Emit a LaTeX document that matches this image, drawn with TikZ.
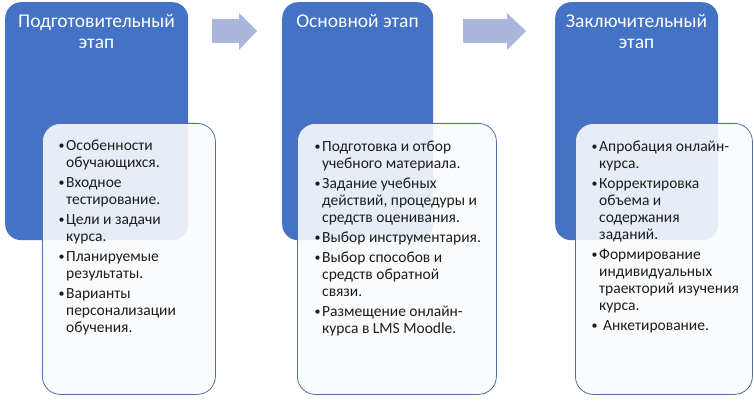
\documentclass[tikz,border=0pt]{standalone}
\usepackage{fontspec}
\setmainfont{Carlito}
\definecolor{accent}{HTML}{4472C4}
\definecolor{arrowc}{HTML}{A9B7DB}
\definecolor{txtc}{HTML}{1C1C1C}
\definecolor{edgec}{HTML}{4F6FAE}
\newcommand\bul{\makebox[8pt][l]{\hspace{0.5pt}\raisebox{0.6pt}{\fontsize{12}{12}\selectfont\textbullet}}}
\newcommand\ind{\hspace*{8pt}}
\begin{document}
\begin{tikzpicture}[x=1pt,y=-1pt,
  stagebox/.style={fill=accent, rounded corners=16pt, anchor=north west, inner sep=0pt, minimum width=#1, minimum height=238pt},
  listbox/.style={draw=edgec, line width=0.8pt, fill=white!97!accent, fill opacity=0.9, rounded corners=18pt, anchor=north west, inner sep=0pt, minimum width=#1, minimum height=271pt},
  head/.style={text=white, font=\fontsize{19.5}{21}\selectfont, align=center, anchor=base, inner sep=0pt},
  listtext/.style={text=txtc, font=\fontsize{15.5}{17}\selectfont, align=left, anchor=base west, inner sep=0pt},
  blockarrow/.style={fill=arrowc}
]
\useasboundingbox (0,0) rectangle (754,403);
% stage boxes
\node[stagebox=183pt] (s1) at (5,2) {};
\node[stagebox=151pt] (s2) at (282,2) {};
\node[stagebox=163pt] (s3) at (555,2) {};
% headers (anchor = baseline of last line)
\node[head] (h1) at (96.5,49) {Подготовительный\\этап};
\node[head] (h2) at (357.5,28) {Основной этап};
\node[head] (h3) at (636.5,49) {Заключительный\\этап};
% block arrows
\fill[blockarrow] (212,19) -- (239,19) -- (239,13) -- (257,31) -- (239,50) -- (239,43) -- (212,43) -- cycle;
\fill[blockarrow] (463,19) -- (507,19) -- (507,13) -- (526,31) -- (507,50) -- (507,43) -- (463,43) -- cycle;
% list boxes
\node[listbox=173pt] (l1) at (42,123) {};
\node[listbox=199pt] (l2) at (297,123) {};
\node[listbox=177pt] (l3) at (575,123) {};
% list texts (anchor = baseline of last line)
\node[listtext] (t1) at (58,332) {\bul Особенности\\\ind обучающихся.\\[3pt]
\bul Входное\\\ind тестирование.\\[3pt]
\bul Цели и задачи\\\ind курса.\\[3pt]
\bul Планируемые\\\ind результаты.\\[3pt]
\bul Варианты\\\ind персонализации\\\ind обучения.};
\node[listtext] (t2) at (314,333) {\bul Подготовка и отбор\\\ind учебного материала.\\[3pt]
\bul Задание учебных\\\ind действий, процедуры и\\\ind средств оценивания.\\[3pt]
\bul Выбор инструментария.\\[3pt]
\bul Выбор способов и\\\ind средств обратной\\\ind связи.\\[3pt]
\bul Размещение онлайн-\\\ind курса в LMS Moodle.};
\node[listtext] (t3) at (591,330) {\bul Апробация онлайн-\\\ind курса.\\[3pt]
\bul Корректировка\\\ind объема и\\\ind содержания\\\ind заданий.\\[3pt]
\bul Формирование\\\ind индивидуальных\\\ind траекторий изучения\\\ind курса.\\[3pt]
\bul\hspace{4pt}Анкетирование.};
\end{tikzpicture}
\end{document}
